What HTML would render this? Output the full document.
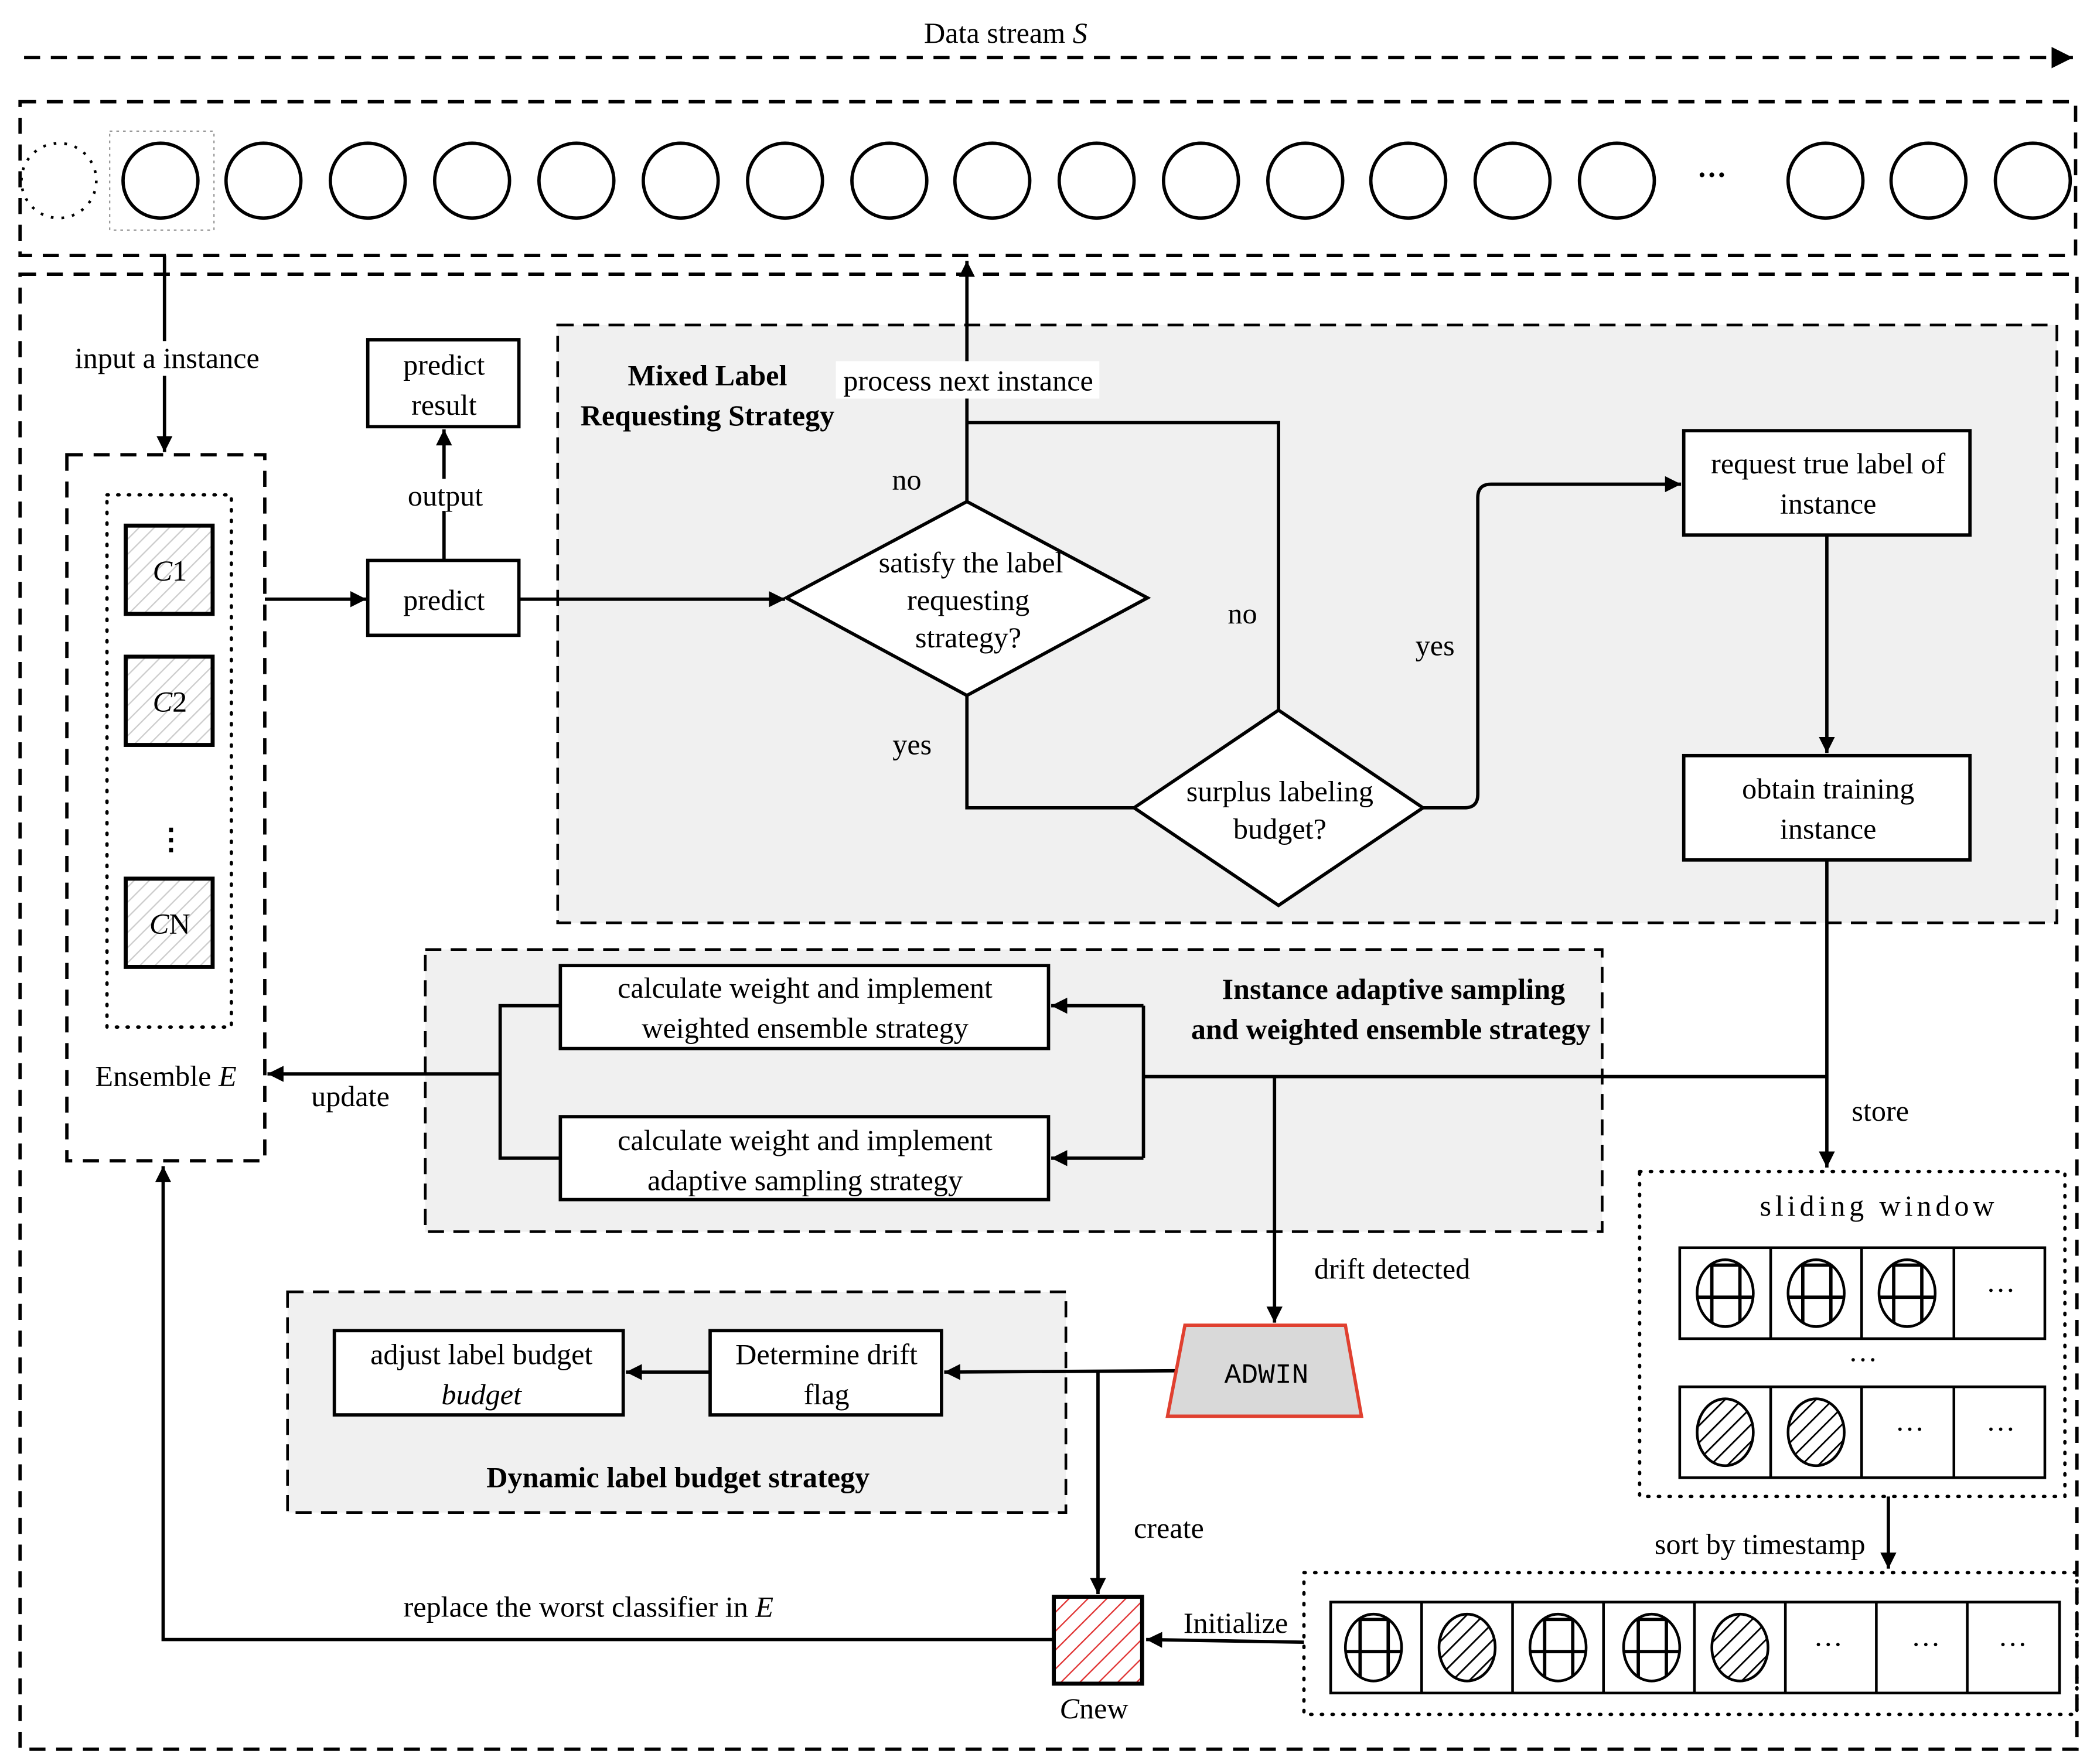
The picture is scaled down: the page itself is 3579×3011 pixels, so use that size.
<!DOCTYPE html>
<html><head><meta charset="utf-8"><style>
html,body{margin:0;padding:0;background:#fff;}
svg{display:block;}
text{font-family:"Liberation Serif",serif;font-size:22px;fill:#000;}
.b{font-weight:bold;}
</style></head><body>
<svg width="3579" height="3011" viewBox="0 0 1568 1319" xmlns="http://www.w3.org/2000/svg">
<defs>
<marker id="ar" viewBox="0 0 10 10" refX="10" refY="5" markerWidth="12" markerHeight="12" orient="auto" markerUnits="userSpaceOnUse"><path d="M0,0 L10,5 L0,10 z" fill="#000"/></marker>
<marker id="ab" viewBox="0 0 10 10" refX="10" refY="5" markerWidth="16" markerHeight="16" orient="auto" markerUnits="userSpaceOnUse"><path d="M0,0 L10,5 L0,10 z" fill="#000"/></marker>
<pattern id="hg" width="8" height="8" patternUnits="userSpaceOnUse" patternTransform="rotate(45)"><rect width="8" height="8" fill="#fff"/><line x1="0" y1="0" x2="0" y2="8" stroke="#ccc" stroke-width="2"/></pattern>
<pattern id="hr" width="10" height="10" patternUnits="userSpaceOnUse" patternTransform="rotate(45)"><rect width="10" height="10" fill="#fff"/><line x1="0" y1="0" x2="0" y2="10" stroke="#e03030" stroke-width="2"/></pattern>
<pattern id="hk" width="9" height="9" patternUnits="userSpaceOnUse" patternTransform="rotate(45)"><rect width="9" height="9" fill="#fff"/><line x1="0" y1="0" x2="0" y2="9" stroke="#000" stroke-width="2.5"/></pattern>
<clipPath id="ce"><ellipse cx="0" cy="0" rx="21" ry="25"/></clipPath>
<g id="gc"><g clip-path="url(#ce)" stroke="#000" stroke-width="2.5"><line x1="-10" y1="-30" x2="-10" y2="30"/><line x1="11" y1="-30" x2="11" y2="30"/><line x1="-30" y1="3" x2="30" y2="3"/><line x1="-30" y1="-21" x2="30" y2="-21"/></g><ellipse cx="0" cy="0" rx="21" ry="25" fill="none" stroke="#000" stroke-width="2"/></g>
<g id="hc"><ellipse cx="0" cy="0" rx="21" ry="25" fill="url(#hk)" stroke="#000" stroke-width="2"/></g>
</defs>

<text x="752" y="32" text-anchor="middle">Data stream <tspan font-style="italic">S</tspan></text>
<line x1="18" y1="43" x2="1550" y2="43" stroke="#000" stroke-width="2.5" stroke-dasharray="12,8" marker-end="url(#ab)"/>

<rect x="15" y="76" width="1537" height="115" fill="none" stroke="#000" stroke-width="2.5" stroke-dasharray="12,8"/>
<circle cx="44" cy="135" r="28" fill="none" stroke="#000" stroke-width="2" stroke-dasharray="2,6"/>
<rect x="82" y="98" width="78" height="74" fill="none" stroke="#999" stroke-width="1" stroke-dasharray="2,3"/>
<g fill="none" stroke="#000" stroke-width="2.5">
<circle cx="120" cy="135" r="28"/><circle cx="197" cy="135" r="28"/><circle cx="275" cy="135" r="28"/><circle cx="353" cy="135" r="28"/><circle cx="431" cy="135" r="28"/><circle cx="509" cy="135" r="28"/><circle cx="587" cy="135" r="28"/><circle cx="665" cy="135" r="28"/><circle cx="742" cy="135" r="28"/><circle cx="820" cy="135" r="28"/><circle cx="898" cy="135" r="28"/><circle cx="976" cy="135" r="28"/><circle cx="1053" cy="135" r="28"/><circle cx="1131" cy="135" r="28"/><circle cx="1209" cy="135" r="28"/><circle cx="1365" cy="135" r="28"/><circle cx="1442" cy="135" r="28"/><circle cx="1520" cy="135" r="28"/>
</g>
<text x="1280" y="138" text-anchor="middle" class="b">···</text>

<rect x="15" y="205" width="1538" height="1103" fill="none" stroke="#000" stroke-width="2.5" stroke-dasharray="12,8"/>

<rect x="417" y="243" width="1121" height="447" fill="#f0f0f0" stroke="#000" stroke-width="2" stroke-dasharray="12,7"/>
<rect x="318" y="710" width="880" height="211" fill="#f0f0f0" stroke="#000" stroke-width="2" stroke-dasharray="12,7"/>
<rect x="215" y="966" width="582" height="165" fill="#f0f0f0" stroke="#000" stroke-width="2" stroke-dasharray="12,7"/>

<g stroke="#000" stroke-width="2.5" fill="none">
<line x1="123" y1="191" x2="123" y2="338" marker-end="url(#ar)"/>
<line x1="198" y1="448" x2="274" y2="448" marker-end="url(#ar)"/>
<line x1="332" y1="419" x2="332" y2="321" marker-end="url(#ar)"/>
<line x1="388" y1="448" x2="587" y2="448" marker-end="url(#ar)"/>
<line x1="723" y1="375" x2="723" y2="195" marker-end="url(#ar)"/>
<polyline points="723,316 956,316 956,531"/>
<polyline points="723,520 723,604 848,604"/>
<path d="M1064,604 L1095,604 Q1105,604 1105,594 L1105,372 Q1105,362 1115,362 L1257,362" marker-end="url(#ar)"/>
<line x1="1366" y1="400" x2="1366" y2="563" marker-end="url(#ar)"/>
<line x1="1366" y1="643" x2="1366" y2="873" marker-end="url(#ar)"/>
<line x1="855" y1="805" x2="1366" y2="805"/>
<line x1="855" y1="752" x2="855" y2="866"/>
<line x1="855" y1="752" x2="786" y2="752" marker-end="url(#ar)"/>
<line x1="855" y1="866" x2="786" y2="866" marker-end="url(#ar)"/>
<polyline points="419,752 374,752 374,866 419,866"/>
<line x1="374" y1="803" x2="200" y2="803" marker-end="url(#ar)"/>
<line x1="953" y1="805" x2="953" y2="989" marker-end="url(#ar)"/>
<line x1="880" y1="1025" x2="706" y2="1026" marker-end="url(#ar)"/>
<line x1="531" y1="1026" x2="468" y2="1026" marker-end="url(#ar)"/>
<line x1="821" y1="1025" x2="821" y2="1192" marker-end="url(#ar)"/>
<polyline points="788,1226 122,1226 122,872" marker-end="url(#ar)"/>
<line x1="975" y1="1228" x2="857" y2="1226" marker-end="url(#ar)"/>
<line x1="1412" y1="1119" x2="1412" y2="1173" marker-end="url(#ar)"/>
</g>

<rect x="50" y="340" width="148" height="528" fill="#fff" stroke="#000" stroke-width="2.5" stroke-dasharray="12,8"/>
<rect x="80" y="370" width="93" height="398" fill="none" stroke="#000" stroke-width="2.5" stroke-dasharray="1,7" stroke-linecap="round"/>
<g stroke="#000" stroke-width="3" fill="url(#hg)">
<rect x="94" y="393" width="65" height="66"/><rect x="94" y="491" width="65" height="66"/><rect x="94" y="657" width="65" height="66"/>
</g>
<text x="127" y="434" text-anchor="middle" font-style="italic">C<tspan font-style="normal">1</tspan></text>
<text x="127" y="532" text-anchor="middle" font-style="italic">C<tspan font-style="normal">2</tspan></text>
<text x="127" y="698" text-anchor="middle" font-style="italic">C<tspan font-style="normal">N</tspan></text>
<text x="128" y="635" text-anchor="middle" class="b">⋮</text>
<text x="124" y="812" text-anchor="middle">Ensemble <tspan font-style="italic">E</tspan></text>

<g stroke="#000" stroke-width="2.5" fill="#fff">
<rect x="275" y="254" width="113" height="65"/>
<rect x="275" y="419" width="113" height="56"/>
<polygon points="588,447 723,375 858,447 723,520"/>
<polygon points="848,604 956,531 1064,604 956,677"/>
<rect x="1259" y="322" width="214" height="78"/>
<rect x="1259" y="565" width="214" height="78"/>
<rect x="419" y="722" width="365" height="62"/>
<rect x="419" y="835" width="365" height="62"/>
<rect x="250" y="995" width="216" height="63"/>
<rect x="531" y="995" width="173" height="63"/>
</g>
<polygon points="886,991 1006,991 1018,1059 873,1059" fill="#d9d9d9" stroke="#e04030" stroke-width="2.5"/>
<text x="947" y="1034" text-anchor="middle" style="font-family:'Liberation Mono',monospace;font-size:21px">ADWIN</text>
<rect x="788" y="1194" width="66" height="65" fill="url(#hr)" stroke="#000" stroke-width="3"/>
<text x="818" y="1285" text-anchor="middle" font-style="italic">C<tspan font-style="normal">new</tspan></text>

<rect x="52" y="255" width="145" height="26" fill="#fff"/>
<text x="125" y="275" text-anchor="middle">input a instance</text>
<text x="332" y="280" text-anchor="middle">predict</text>
<text x="332" y="310" text-anchor="middle">result</text>
<rect x="300" y="358" width="66" height="24" fill="#fff"/>
<text x="333" y="378" text-anchor="middle">output</text>
<text x="332" y="456" text-anchor="middle">predict</text>
<text x="529" y="288" text-anchor="middle" class="b">Mixed Label</text>
<text x="529" y="318" text-anchor="middle" class="b">Requesting Strategy</text>
<rect x="625" y="270" width="197" height="28" fill="#fff"/>
<text x="724" y="292" text-anchor="middle">process next instance</text>
<text x="678" y="366" text-anchor="middle">no</text>
<text x="726" y="428" text-anchor="middle">satisfy the label</text>
<text x="724" y="456" text-anchor="middle">requesting</text>
<text x="724" y="484" text-anchor="middle">strategy?</text>
<text x="929" y="466" text-anchor="middle">no</text>
<text x="1073" y="490" text-anchor="middle">yes</text>
<text x="682" y="564" text-anchor="middle">yes</text>
<text x="957" y="599" text-anchor="middle">surplus labeling</text>
<text x="957" y="627" text-anchor="middle">budget?</text>
<text x="1367" y="354" text-anchor="middle">request true label of</text>
<text x="1367" y="384" text-anchor="middle">instance</text>
<text x="1367" y="597" text-anchor="middle">obtain training</text>
<text x="1367" y="627" text-anchor="middle">instance</text>
<text x="602" y="746" text-anchor="middle">calculate weight and implement</text>
<text x="602" y="776" text-anchor="middle">weighted ensemble strategy</text>
<text x="602" y="860" text-anchor="middle">calculate weight and implement</text>
<text x="602" y="890" text-anchor="middle">adaptive sampling strategy</text>
<text x="1042" y="747" text-anchor="middle" class="b">Instance adaptive sampling</text>
<text x="1040" y="777" text-anchor="middle" class="b">and weighted ensemble strategy</text>
<text x="262" y="827" text-anchor="middle">update</text>
<text x="1406" y="838" text-anchor="middle">store</text>
<text x="1041" y="956" text-anchor="middle">drift detected</text>
<text x="360" y="1020" text-anchor="middle">adjust label budget</text>
<text x="360" y="1050" text-anchor="middle" font-style="italic">budget</text>
<text x="618" y="1020" text-anchor="middle">Determine drift</text>
<text x="618" y="1050" text-anchor="middle">flag</text>
<text x="507" y="1112" text-anchor="middle" class="b">Dynamic label budget strategy</text>
<text x="874" y="1150" text-anchor="middle">create</text>
<text x="440" y="1209" text-anchor="middle">replace the worst classifier in <tspan font-style="italic">E</tspan></text>
<text x="924" y="1221" text-anchor="middle">Initialize</text>
<text x="1316" y="1162" text-anchor="middle">sort by timestamp</text>

<rect x="1226" y="876" width="318" height="243" fill="none" stroke="#000" stroke-width="2.5" stroke-dasharray="1,7" stroke-linecap="round"/>
<text x="1405" y="909" text-anchor="middle" letter-spacing="3">sliding window</text>
<g stroke="#000" stroke-width="2" fill="none">
<rect x="1256" y="933" width="273" height="68"/><line x1="1324" y1="933" x2="1324" y2="1001"/><line x1="1392" y1="933" x2="1392" y2="1001"/><line x1="1461" y1="933" x2="1461" y2="1001"/>
<rect x="1256" y="1037" width="273" height="68"/><line x1="1324" y1="1037" x2="1324" y2="1105"/><line x1="1392" y1="1037" x2="1392" y2="1105"/><line x1="1461" y1="1037" x2="1461" y2="1105"/>
</g>
<use href="#gc" x="1290" y="967"/><use href="#gc" x="1358" y="967"/><use href="#gc" x="1426" y="967"/>
<use href="#hc" x="1290" y="1071"/><use href="#hc" x="1358" y="1071"/>
<text x="1496" y="972" text-anchor="middle">···</text>
<text x="1393" y="1024" text-anchor="middle">···</text>
<text x="1428" y="1076" text-anchor="middle">···</text>
<text x="1496" y="1076" text-anchor="middle">···</text>

<rect x="975" y="1176" width="578" height="106" fill="none" stroke="#000" stroke-width="2.5" stroke-dasharray="1,7" stroke-linecap="round"/>
<g stroke="#000" stroke-width="2" fill="none">
<rect x="995" y="1198" width="545" height="68"/>
<line x1="1063" y1="1198" x2="1063" y2="1266"/><line x1="1131" y1="1198" x2="1131" y2="1266"/><line x1="1199" y1="1198" x2="1199" y2="1266"/><line x1="1267" y1="1198" x2="1267" y2="1266"/><line x1="1335" y1="1198" x2="1335" y2="1266"/><line x1="1403" y1="1198" x2="1403" y2="1266"/><line x1="1471" y1="1198" x2="1471" y2="1266"/>
</g>
<use href="#gc" x="1027" y="1232"/><use href="#hc" x="1097" y="1232"/><use href="#gc" x="1165" y="1232"/><use href="#gc" x="1235" y="1232"/><use href="#hc" x="1301" y="1232"/>
<text x="1367" y="1237" text-anchor="middle">···</text>
<text x="1440" y="1237" text-anchor="middle">···</text>
<text x="1505" y="1237" text-anchor="middle">···</text>
</svg>
</body></html>
